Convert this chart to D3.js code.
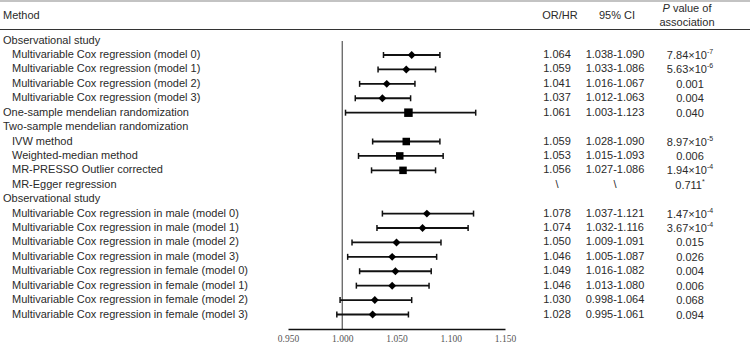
<!DOCTYPE html>
<html><head><meta charset="utf-8">
<script src="https://cdn.jsdelivr.net/npm/d3@7/dist/d3.min.js"></script>
<style>body{margin:0;background:#fff}svg{display:block}</style>
</head><body><svg id="c" width="750" height="345"></svg>
<script>
const labels = [
 "Observational study",
 "Multivariable Cox regression (model 0)",
 "Multivariable Cox regression (model 1)",
 "Multivariable Cox regression (model 2)",
 "Multivariable Cox regression (model 3)",
 "One-sample mendelian randomization",
 "Two-sample mendelian randomization",
 "IVW method",
 "Weighted-median method",
 "MR-PRESSO Outlier corrected",
 "MR-Egger regression",
 "Observational study",
 "Multivariable Cox regression in male (model 0)",
 "Multivariable Cox regression in male (model 1)",
 "Multivariable Cox regression in male (model 2)",
 "Multivariable Cox regression in male (model 3)",
 "Multivariable Cox regression in female (model 0)",
 "Multivariable Cox regression in female (model 1)",
 "Multivariable Cox regression in female (model 2)",
 "Multivariable Cox regression in female (model 3)"
];
const indented = [0,1,1,1,1,0,0,1,1,1,1,0,1,1,1,1,1,1,1,1];
const estimate = [null,1.064,1.059,1.041,1.037,1.061,null,1.059,1.053,1.056,null,null,1.078,1.074,1.050,1.046,1.049,1.046,1.030,1.028];
const ciLow  = [null,1.038,1.033,1.016,1.012,1.003,null,1.028,1.015,1.027,null,null,1.037,1.032,1.009,1.005,1.016,1.013,0.998,0.995];
const ciHigh = [null,1.090,1.086,1.067,1.063,1.123,null,1.090,1.093,1.086,null,null,1.121,1.116,1.091,1.087,1.082,1.080,1.064,1.061];
const markerShape = [null,"diamond","diamond","diamond","diamond","square",null,"square","square","square",null,null,"diamond","diamond","diamond","diamond","diamond","diamond","diamond","diamond"];
const orText = ["","1.064","1.059","1.041","1.037","1.061","","1.059","1.053","1.056","\\","","1.078","1.074","1.050","1.046","1.049","1.046","1.030","1.028"];
const ciText = ["","1.038-1.090","1.033-1.086","1.016-1.067","1.012-1.063","1.003-1.123","","1.028-1.090","1.015-1.093","1.027-1.086","\\","","1.037-1.121","1.032-1.116","1.009-1.091","1.005-1.087","1.016-1.082","1.013-1.080","0.998-1.064","0.995-1.061"];
const pMain = ["","7.84×10","5.63×10","0.001","0.004","0.040","","8.97×10","0.006","1.94×10","0.711","","1.47×10","3.67×10","0.015","0.026","0.004","0.006","0.068","0.094"];
const pSup  = ["","-7","-6","","","","","-5","","-4","*","","-4","-4","","","","","",""];
const tickValues = [0.950,1.000,1.050,1.100,1.150];
const tickLabels = ["0.950","1.000","1.050","1.100","1.150"];

const svg = d3.select("#c");
const txt = "#2a2a2a";
const sans = "Liberation Sans, Arial, sans-serif";

const x = d3.scaleLinear().domain([0.95,1.15]).range([288,505]);
const y = d3.scaleLinear().domain([0,19]).range([40.6,314.5]);

// header lines
svg.append("line").attr("x1",0).attr("x2",750).attr("y1",1).attr("y2",1).attr("stroke","#888").attr("stroke-width",1.2);
svg.append("line").attr("x1",0).attr("x2",750).attr("y1",29.5).attr("y2",29.5).attr("stroke","#333").attr("stroke-width",1.2);

const hdr = svg.append("g").attr("font-family",sans).attr("font-size",11).attr("fill",txt);
hdr.append("text").attr("x",3).attr("y",15).attr("dominant-baseline","central").text("Method");
hdr.append("text").attr("x",560).attr("y",15).attr("text-anchor","middle").attr("dominant-baseline","central").text("OR/HR");
hdr.append("text").attr("x",617).attr("y",15).attr("text-anchor","middle").attr("dominant-baseline","central").text("95% CI");
const pv = hdr.append("text").attr("x",687).attr("y",8).attr("text-anchor","middle").attr("dominant-baseline","central");
pv.append("tspan").attr("font-style","italic").text("P");
pv.append("tspan").text(" value of");
hdr.append("text").attr("x",687).attr("y",22).attr("text-anchor","middle").attr("dominant-baseline","central").text("association");

// row labels
const rows = svg.append("g").attr("font-family",sans).attr("font-size",11).attr("fill",txt);
labels.forEach((l,i)=>{
  rows.append("text").attr("x",indented[i]?12:3).attr("y",y(i)-1).attr("dominant-baseline","central").text(l);
  if(orText[i]) rows.append("text").attr("x",557).attr("y",y(i)-1).attr("text-anchor","middle").attr("dominant-baseline","central").text(orText[i]);
  if(ciText[i]) rows.append("text").attr("x",615).attr("y",y(i)-1).attr("text-anchor","middle").attr("dominant-baseline","central").text(ciText[i]);
  if(pMain[i]){
    const t = rows.append("text").attr("x",690).attr("y",y(i)).attr("text-anchor","middle").attr("dominant-baseline","central");
    t.append("tspan").text(pMain[i]);
    if(pSup[i]) t.append("tspan").attr("font-size",7).attr("dy",-4).text(pSup[i]);
  }
});

// reference line
svg.append("line").attr("x1",x(1)).attr("x2",x(1)).attr("y1",41).attr("y2",329).attr("stroke","#555").attr("stroke-width",1.2);

// axis
const axisG = svg.append("g").attr("transform","translate(0,329)");
const axis = d3.axisBottom(x).tickValues(tickValues).tickFormat((d,i)=>tickLabels[i]).tickSize(0).tickPadding(6);
axisG.call(axis);
axisG.select(".domain").attr("stroke","#111").attr("stroke-width",1.6);
axisG.selectAll("text").attr("font-family","Liberation Serif, Times New Roman, serif").attr("font-size",9.5).attr("fill","#555");

// CIs and markers
const marks = svg.append("g");
estimate.forEach((e,i)=>{
  if(e==null) return;
  const yy = y(i);
  marks.append("line").attr("x1",x(ciLow[i])).attr("x2",x(ciHigh[i])).attr("y1",yy).attr("y2",yy).attr("stroke","#111").attr("stroke-width",1.8);
  [ciLow[i],ciHigh[i]].forEach(v=>{
    marks.append("line").attr("x1",x(v)).attr("x2",x(v)).attr("y1",yy-3).attr("y2",yy+3).attr("stroke","#111").attr("stroke-width",1.5);
  });
  if(markerShape[i]==="diamond"){
    marks.append("path").attr("d",d3.symbol(d3.symbolDiamond2, 40)()).attr("transform",`translate(${x(e)},${yy})`).attr("fill","#000");
  } else {
    const s = i===5?8.5:7.5;
    marks.append("rect").attr("x",x(e)-s/2).attr("y",yy-s/2).attr("width",s).attr("height",s).attr("fill","#000");
  }
});
</script></body></html>
